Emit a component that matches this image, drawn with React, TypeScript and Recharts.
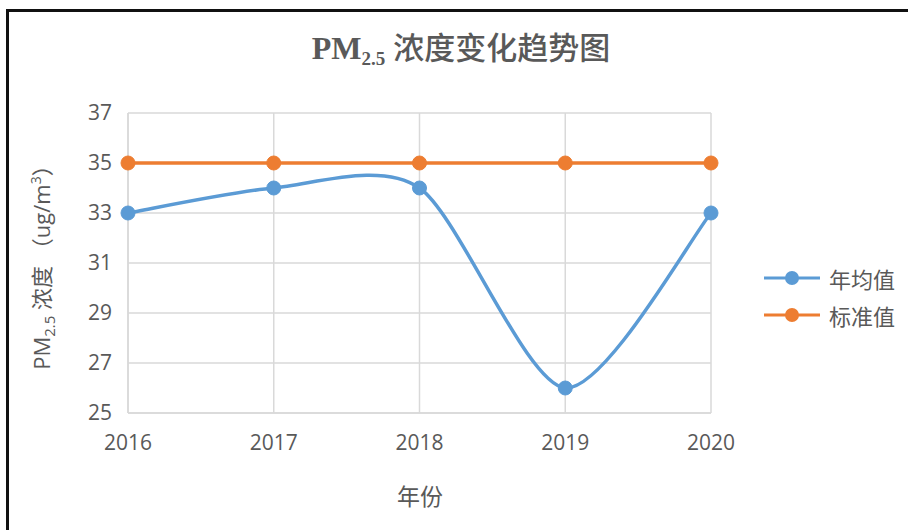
import React from "react";
import { LineChart, Line, XAxis, YAxis, CartesianGrid, Legend } from "recharts";

const years = ["2016", "2017", "2018", "2019", "2020"];
const annualAvg = [33, 34, 34, 26, 33];
const standard = [35, 35, 35, 35, 35];
const yTicks = [25, 27, 29, 31, 33, 35, 37];

const BLUE = "#5B9BD5";
const ORANGE = "#ED7D31";
const TEXT = "#595959";
const FONT = "'Open Sans', 'Noto Sans CJK SC', sans-serif";

const chartData = years.map((year, i) => ({
  year,
  avg: annualAvg[i],
  std: standard[i],
}));

// Excel-style smoothed line (Catmull-Rom-like cubic bezier, slightly softer)
const SMOOTH = 0.135;
const smoothCurve = (context: any) => {
  let pts: [number, number][] = [];
  return {
    areaStart() {},
    areaEnd() {},
    lineStart() {
      pts = [];
    },
    point(x: number, y: number) {
      pts.push([+x, +y]);
    },
    lineEnd() {
      const n = pts.length;
      if (!n) return;
      context.moveTo(pts[0][0], pts[0][1]);
      for (let i = 0; i < n - 1; i++) {
        const p0 = pts[Math.max(i - 1, 0)];
        const p1 = pts[i];
        const p2 = pts[i + 1];
        const p3 = pts[Math.min(i + 2, n - 1)];
        context.bezierCurveTo(
          p1[0] + (p2[0] - p0[0]) * SMOOTH,
          p1[1] + (p2[1] - p0[1]) * SMOOTH,
          p2[0] - (p3[0] - p1[0]) * SMOOTH,
          p2[1] - (p3[1] - p1[1]) * SMOOTH,
          p2[0],
          p2[1]
        );
      }
    },
  };
};

const renderLegend = (props: any) => {
  const { payload } = props;
  return (
    <div style={{ fontFamily: FONT }}>
      {payload.map((item: any) => (
        <div key={item.value} style={{ display: "flex", alignItems: "center", height: 37 }}>
          <svg width={60} height={20}>
            <line x1={2} y1={10} x2={58} y2={10} stroke={item.color} strokeWidth={3} />
            <circle cx={30} cy={10} r={7} fill={item.color} />
          </svg>
          <span style={{ fontSize: 22, color: TEXT, marginLeft: 7 }}>{item.value}</span>
        </div>
      ))}
    </div>
  );
};

const YLabel = () => (
  <text
    x={50}
    y={262}
    transform="rotate(-90 50 262)"
    textAnchor="middle"
    fill={TEXT}
    fontSize={22}
    fontFamily={FONT}
  >
    PM
    <tspan fontSize={15} dy={5}>2.5</tspan>
    <tspan dy={-5}> 浓度 （ug/m</tspan>
    <tspan fontSize={14} dy={-9}>3</tspan>
    <tspan dy={9}>）</tspan>
  </text>
);

const XLabel = () => (
  <text x={420} y={505} textAnchor="middle" fill={TEXT} fontSize={23} fontFamily={FONT}>
    年份
  </text>
);

export default function App() {
  return (
    <div
      style={{
        position: "absolute",
        left: 0,
        top: 0,
        width: 908,
        height: 530,
        overflow: "hidden",
        background: "#fff",
      }}
    >
      <div
        style={{
          position: "absolute",
          left: 6,
          top: 9,
          width: 940,
          height: 600,
          border: "3px solid #111",
        }}
      />
      <div
        style={{
          position: "absolute",
          left: 0,
          width: 922,
          top: 29,
          textAlign: "center",
          color: TEXT,
          fontFamily: "'Liberation Serif', 'Noto Sans CJK SC', serif",
          fontWeight: "bold",
          fontSize: 32,
          lineHeight: "38px",
        }}
      >
        PM<sub style={{ fontSize: 19, verticalAlign: "-6px" }}>2.5</sub>{" "}
        <span style={{ fontWeight: 500, fontSize: 31 }}>浓度变化趋势图</span>
      </div>
      <div style={{ position: "absolute", left: 0, top: 0 }}>
        <LineChart
          width={908}
          height={530}
          data={chartData}
          margin={{ top: 113, right: 197, bottom: 77, left: 68 }}
        >
          <CartesianGrid stroke="#d9d9d9" strokeWidth={1.5} />
          <XAxis
            dataKey="year"
            tickLine={false}
            axisLine={{ stroke: "#d9d9d9", strokeWidth: 1.5 }}
            height={40}
            tickMargin={16}
            tick={{ fill: TEXT, fontSize: 21, fontFamily: FONT }}
            label={{ content: () => <XLabel /> }}
          />
          <YAxis
            domain={[25, 37]}
            ticks={yTicks}
            width={60}
            tickLine={false}
            axisLine={{ stroke: "#d9d9d9", strokeWidth: 1.5 }}
            tickMargin={10}
            tick={{ fill: TEXT, fontSize: 21, fontFamily: FONT }}
            label={{ content: () => <YLabel /> }}
          />
          <Legend
            layout="horizontal"
            align="center"
            verticalAlign="middle"
            content={renderLegend}
            wrapperStyle={{ left: 762, top: 259, width: 150 }}
          />
          <Line
            name="年均值"
            dataKey="avg"
            type={smoothCurve as any}
            stroke={BLUE}
            strokeWidth={3.5}
            dot={{ r: 7, fill: BLUE, stroke: BLUE, strokeWidth: 1 }}
            activeDot={false}
            isAnimationActive={false}
          />
          <Line
            name="标准值"
            dataKey="std"
            type="linear"
            stroke={ORANGE}
            strokeWidth={3.5}
            dot={{ r: 7, fill: ORANGE, stroke: ORANGE, strokeWidth: 1 }}
            activeDot={false}
            isAnimationActive={false}
          />
        </LineChart>
      </div>
    </div>
  );
}
